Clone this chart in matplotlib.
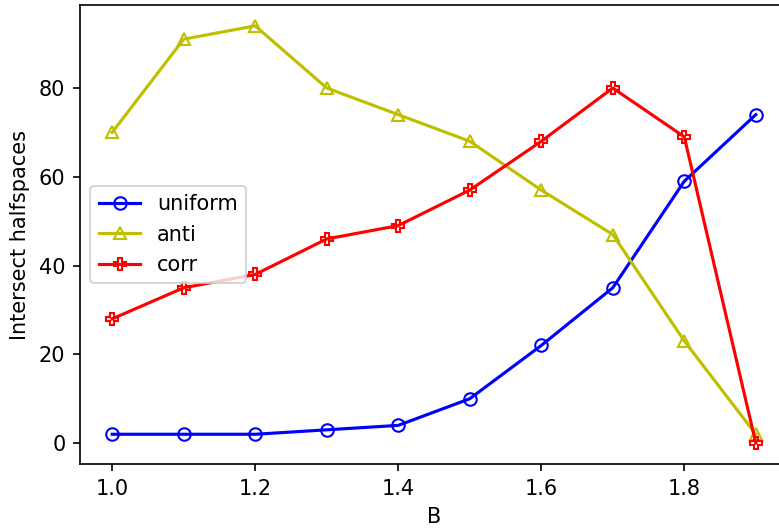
# Intersect halfspaces vs B for three data distributions
import matplotlib
matplotlib.use('Agg')
import matplotlib.pyplot as plt

# Data
B = [1.0, 1.1, 1.2, 1.3, 1.4, 1.5, 1.6, 1.7, 1.8, 1.9]
uniform = [2, 2, 2, 3, 4, 10, 22, 35, 59, 74]
anti = [70, 91, 94, 80, 74, 68, 57, 47, 23, 2]
corr = [28, 35, 38, 46, 49, 57, 68, 80, 69, 0]

fig = plt.figure(figsize=(779 / 150, 532 / 150), dpi=150)
ax = fig.add_axes([80 / 779, 68 / 532, 708 / 779, 459 / 532])

ax.plot(B, uniform, 'b-o', mfc='none', label='uniform')
ax.plot(B, anti, 'y-^', mfc='none', label='anti')
ax.plot(B, corr, 'r-P', mfc='none', label='corr')

ax.set_xlabel('B')
ax.set_ylabel('Intersect halfspaces')
ax.legend(loc='center left')

plt.savefig('out.png', dpi=150)
